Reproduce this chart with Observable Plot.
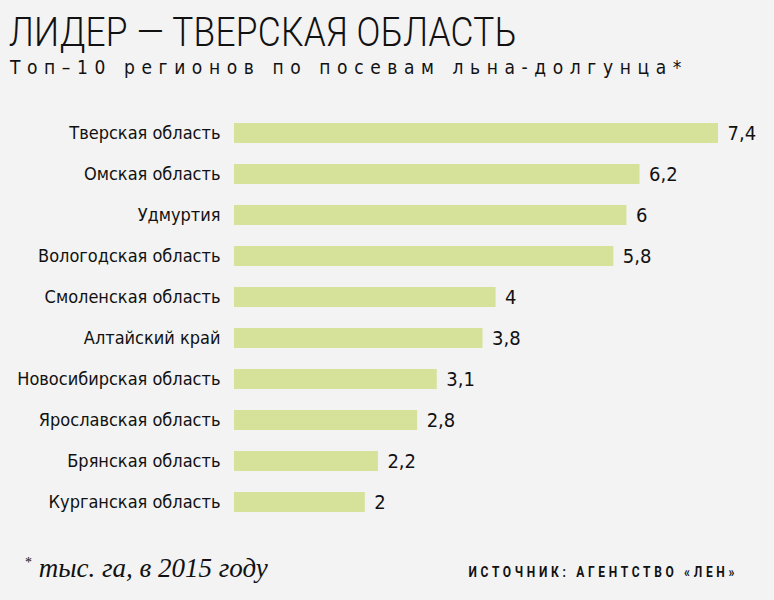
<!DOCTYPE html>
<html>
<head>
<meta charset="utf-8">
<script src="https://cdn.jsdelivr.net/npm/d3@7"></script>
<script src="https://cdn.jsdelivr.net/npm/@observablehq/plot@0.6"></script>
<style>
  html, body { margin: 0; padding: 0; background: #f3f3f3; }
  body { width: 774px; height: 600px; position: relative; overflow: hidden; font-family: "Liberation Sans Narrow", "DejaVu Sans Condensed", "Roboto", sans-serif; color: #111; }
  #title { position: absolute; left: 9px; top: 12px; font-family: Roboto, sans-serif; font-size: 41px; font-weight: 300; line-height: 1; letter-spacing: 0.3px; white-space: nowrap; transform: scaleX(0.86); transform-origin: left top; }
  #subtitle { position: absolute; left: 10px; top: 58px; font-size: 19px; letter-spacing: 6.6px; line-height: 1; white-space: nowrap; }
  #chart { position: absolute; left: 0; top: 100px; }
  #note { position: absolute; left: 25px; top: 555px; font-family: "Liberation Serif", "DejaVu Serif", serif; font-style: italic; font-size: 27px; line-height: 1; white-space: nowrap; }
  #note sup { font-size: 14px; vertical-align: 10px; font-style: normal; }
  #source { position: absolute; right: 36px; top: 565px; font-family: Roboto, sans-serif; font-size: 15px; font-weight: bold; letter-spacing: 4.6px; line-height: 1; white-space: nowrap; transform: scaleX(0.8); transform-origin: right top; }
</style>
</head>
<body>
<div id="title">ЛИДЕР — ТВЕРСКАЯ ОБЛАСТЬ</div>
<div id="subtitle">Топ–10 регионов по посевам льна-долгунца*</div>
<div id="chart"></div>
<div id="note"><sup>*</sup> тыс. га, в 2015 году</div>
<div id="source">ИСТОЧНИК: АГЕНТСТВО «ЛЕН»</div>
<script>
const regions = ["Тверская область", "Омская область", "Удмуртия", "Вологодская область", "Смоленская область", "Алтайский край", "Новосибирская область", "Ярославская область", "Брянская область", "Курганская область"];
const values = [7.4, 6.2, 6, 5.8, 4, 3.8, 3.1, 2.8, 2.2, 2];

const data = regions.map((r, i) => ({region: r, value: values[i], label: String(values[i]).replace(".", ",")}));

const chart = Plot.plot({
  width: 774,
  height: 430,
  marginLeft: 234,
  marginRight: 56,
  marginTop: 9,
  marginBottom: 4,
  style: {background: "transparent", fontFamily: "'Liberation Sans Narrow', 'DejaVu Sans Condensed', Roboto, sans-serif", color: "#111"},
  x: {domain: [0, 7.4], axis: null},
  y: {domain: regions, paddingInner: 0.52, paddingOuter: 0.26, label: null},
  marks: [
    Plot.barX(data, {x: "value", y: "region", fill: "#d6e29a"}),
    Plot.text(data, {x: "value", y: "region", text: "label", textAnchor: "start", dx: 9, fontSize: 20, fill: "#111"}),
    Plot.axisY({tickSize: 0, tickPadding: 14, fontSize: 18, label: null, fill: "#111"})
  ]
});
document.getElementById("chart").appendChild(chart);
</script>
</body>
</html>
